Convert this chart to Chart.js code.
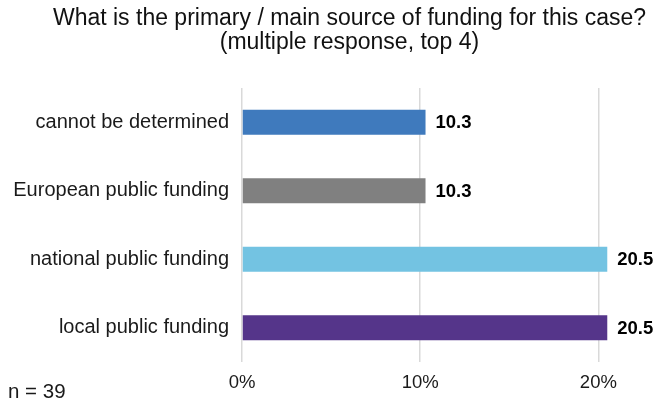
<!DOCTYPE html>
<html>
<head>
<meta charset="utf-8">
<script src="https://cdn.jsdelivr.net/npm/chart.js@4"></script>
<style>
  html, body { margin: 0; padding: 0; background: #fff; }
  #wrap { width: 657px; height: 404px; position: relative; }
</style>
</head>
<body>
<div id="wrap"><canvas id="chart"></canvas></div>
<script>
const categories = ['cannot be determined', 'European public funding', 'national public funding', 'local public funding'];
const shares = [10.3, 10.3, 20.5, 20.5];
const barColors = ['#3f7abd', '#808080', '#73c3e2', '#55358a'];
const tickLabels = { 0: '0%', 10: '10%', 20: '20%' };
const titleLines = ['What is the primary / main source of funding for this case?', '(multiple response, top 4)'];
const sampleNote = 'n = 39';

const FONT = "'Liberation Sans', Arial, sans-serif";

// title (offset to the right like the original), value labels and the n note
const textPlugin = {
  id: 'extraText',
  afterDraw(chart) {
    const ctx = chart.ctx;
    ctx.save();
    ctx.fillStyle = '#111';
    ctx.textAlign = 'center';
    ctx.textBaseline = 'alphabetic';
    ctx.font = '23px ' + FONT;
    ctx.fillText(titleLines[0], 349.5, 25);
    ctx.fillText(titleLines[1], 349.5, 48.5);

    const meta = chart.getDatasetMeta(0);
    ctx.font = 'bold 18.5px ' + FONT;
    ctx.fillStyle = '#000';
    ctx.textAlign = 'left';
    ctx.textBaseline = 'middle';
    meta.data.forEach((bar, i) => {
      ctx.fillText(shares[i].toFixed(1), bar.x + 10, bar.y + 1);
    });

    ctx.font = '20.5px ' + FONT;
    ctx.fillStyle = '#1a1a1a';
    ctx.textBaseline = 'alphabetic';
    ctx.fillText(sampleNote, 8, 398);
    ctx.restore();
  }
};

new Chart(document.getElementById('chart'), {
  type: 'bar',
  data: {
    labels: categories,
    datasets: [{
      data: shares,
      backgroundColor: barColors,
      borderWidth: 0,
      categoryPercentage: 1,
      barPercentage: 0.365
    }]
  },
  options: {
    indexAxis: 'y',
    responsive: true,
    maintainAspectRatio: false,
    animation: false,
    layout: { padding: { left: 0, right: 23, top: 88, bottom: 0 } },
    plugins: {
      legend: { display: false },
      tooltip: { enabled: false },
      title: { display: false }
    },
    scales: {
      x: {
        min: 0,
        max: 22,
        border: { display: false },
        grid: { color: '#d9d9d9', lineWidth: 1.5, drawTicks: false },
        ticks: {
          stepSize: 10,
          includeBounds: false,
          padding: 10,
          color: '#1a1a1a',
          font: { family: FONT, size: 18.5 },
          callback: v => tickLabels[v] || ''
        },
        afterFit(scale) { scale.height = 42; }
      },
      y: {
        border: { display: false },
        grid: { display: false, drawTicks: false },
        ticks: {
          padding: 13,
          color: '#1a1a1a',
          font: { family: FONT, size: 20 }
        },
        afterFit(scale) { scale.width = 242; }
      }
    }
  },
  plugins: [textPlugin]
});
</script>
</body>
</html>
